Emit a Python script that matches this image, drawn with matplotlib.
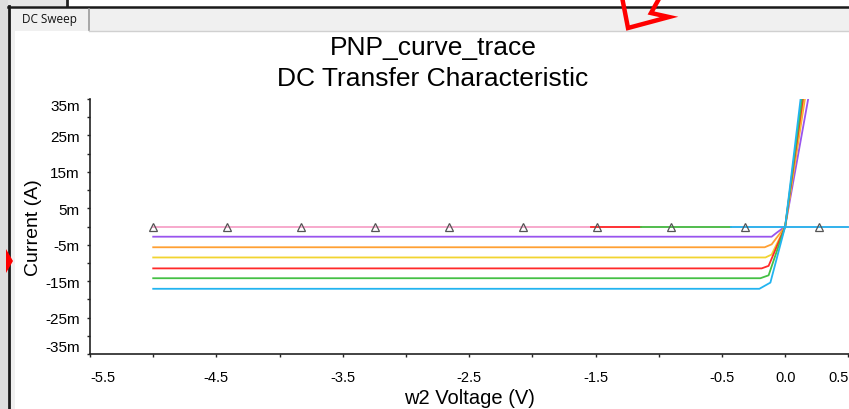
import matplotlib
matplotlib.use("Agg")
import matplotlib.pyplot as plt
from matplotlib.patches import Rectangle, Polygon
from matplotlib.lines import Line2D

# ---------------- data ----------------
x_start = -5.0                       # sweep start (V)
x_end = 0.505
# traces (Ib steps): colour, flat level (mA), knee V, bend V, bend mA, V at 35 mA
trace_colors = ["#9955ee", "#ffa033", "#f2d431", "#ff2a2a", "#44c044", "#22b4f0"]
trace_levels_ma = [-2.8, -5.7, -8.5, -11.5, -14.2, -17.1]
knee_v = [-0.107, -0.162, -0.156, -0.186, -0.196, -0.204]
bend_v = [-0.067, -0.107, -0.107, -0.131, -0.131, -0.117]
bend_ma = [-1.7, -4.9, -7.7, -10.8, -13.4, -15.4]
top_v = [0.182, 0.156, 0.148, 0.140, 0.132, 0.122]
top_ma = 36.0
# zero-current trace (Ib = 0) and overlapping segments on the zero line
zero_color = "#f7a3c8"
zero_seg_colors = ["#ff2a2a", "#44c044", "#22b4f0"]
zero_seg_start = [-1.54, -1.14, -0.43]
zero_seg_end = [-1.14, -0.43, 0.50]
# marker positions on the zero trace
marker_v = [-5.0, -4.415, -3.83, -3.245, -2.66, -2.075, -1.49, -0.905, -0.32, 0.265]
# axis ticks
xtick_vals = [-5.5, -4.5, -3.5, -2.5, -1.5, -0.5, 0.0, 0.5]
xtick_labels = ["-5.5", "-4.5", "-3.5", "-2.5", "-1.5", "-0.5", "0.0", "0.5"]
xminor_vals = [-5.0, -4.0, -3.0, -2.0, -1.0]
ytick_vals = [0.035, 0.025, 0.015, 0.005, -0.005, -0.015, -0.025, -0.035]
ytick_labels = ["35m", "25m", "15m", "5m", "-5m", "-15m", "-25m", "-35m"]
yminor_vals = [-0.03, -0.02, -0.01, 0.0, 0.01, 0.02, 0.03]

# ---------------- figure ----------------
W, H = 849, 410
plt.rcParams["font.family"] = ["Liberation Sans", "DejaVu Sans"]
fig = plt.figure(figsize=(W / 100, H / 100), dpi=100)
fig.patch.set_facecolor("white")


def fx(x):
    return x / W


def fy(y):
    return 1 - y / H


def rect(x0, y0, x1, y1, color, z=0):
    fig.add_artist(Rectangle((fx(x0), fy(y1)), fx(x1) - fx(x0), fy(y0) - fy(y1),
                             transform=fig.transFigure, facecolor=color,
                             edgecolor="none", zorder=z))


def fline(xs, ys, color, lw, z=1):
    fig.add_artist(Line2D([fx(v) for v in xs], [fy(v) for v in ys],
                          transform=fig.transFigure, color=color, lw=lw, zorder=z))


# window chrome
rect(0, 0, 66, 7, "#e6e6e6")
fline([67, 67], [0, 7], "#222222", 2.0)
rect(0, 0, 8, H, "#dedede")
rect(10, 8, W, 32, "#f0f0f0")
rect(10, 32, 15, H, "#f0f0f0")
fline([9, 9], [7, H], "#1a1a1a", 2.0)
fline([8, W], [7.5, 7.5], "#1a1a1a", 1.8)
fline([89, 89], [10, 31], "#9a9a9a", 1.2)
fline([89, W], [31.5, 31.5], "#d0d0d0", 1.0)
fig.text(fx(49), fy(19), "DC Sweep", ha="center", va="center", fontsize=8.5,
         family=["Open Sans", "DejaVu Sans"], color="#111111")
# red annotation shapes
fig.add_artist(Polygon([(fx(622), fy(-2)), (fx(628), fy(29)), (fx(669), fy(18)),
                        (fx(651), fy(14)), (fx(660), fy(-2))], closed=False,
                       transform=fig.transFigure, fill=False, edgecolor="#ff0000",
                       lw=3.2, joinstyle="miter", zorder=3))
fig.add_artist(Polygon([(fx(6), fy(250)), (fx(13), fy(262)), (fx(6), fy(274))],
                       closed=True, transform=fig.transFigure, facecolor="#ff0000",
                       edgecolor="none", zorder=3))

# axes: left 90 px, right 849 px, top 100 px, bottom 355 px
ax_l, ax_r, ax_t, ax_b = 90, 849, 100, 355
ax = fig.add_axes([fx(ax_l), fy(ax_b), fx(ax_r) - fx(ax_l), fy(ax_t) - fy(ax_b)])
ax.set_facecolor("none")

lw = 1.3
# zero trace
ax.plot([x_start, x_end], [0, 0], color=zero_color, lw=lw, zorder=2)
# main traces
for c, lv, kv, bv, bm, tv in zip(trace_colors, trace_levels_ma, knee_v, bend_v, bend_ma, top_v):
    xs = [x_start, kv, bv, 0.0, tv * top_ma / 35.0]
    ys = [lv / 1000, lv / 1000, bm / 1000, 0.0, top_ma / 1000]
    ax.plot(xs, ys, color=c, lw=lw, zorder=3)
# overlapping zero-line segments
for c, s, e in zip(zero_seg_colors, zero_seg_start, zero_seg_end):
    ax.plot([s, e], [0, 0], color=c, lw=lw, zorder=4)
# markers
ax.plot(marker_v, [0] * len(marker_v), linestyle="none", marker="^", markersize=5.8,
        markerfacecolor="none", markeredgecolor="#555555", markeredgewidth=0.9, zorder=5)

ax.set_xlim(-5.5, x_end)
ax.set_ylim(-0.035, 0.035)

for side in ["top", "right"]:
    ax.spines[side].set_visible(False)
for side in ["left", "bottom"]:
    ax.spines[side].set_linewidth(1.2)
    ax.spines[side].set_color("#222222")

ax.set_xticks(xtick_vals)
ax.set_xticklabels(xtick_labels)
ax.set_xticks(xminor_vals, minor=True)
ax.set_yticks(ytick_vals)
ax.set_yticklabels(ytick_labels)
ax.set_yticks(yminor_vals, minor=True)
ax.tick_params(axis="both", which="both", direction="out", length=2.5, width=1.0,
               color="#222222")
ax.tick_params(axis="x", which="major", labelsize=10.5, pad=9)
ax.tick_params(axis="y", which="major", labelsize=11, pad=5)

xl = ax.get_xticklabels()
xl[0].set_horizontalalignment("left")
xl[-1].set_horizontalalignment("right")
yl = ax.get_yticklabels()
yl[0].set_verticalalignment("top")
yl[-1].set_verticalalignment("bottom")

ax.set_xlabel("w2 Voltage (V)", fontsize=14.5)
ax.xaxis.set_label_coords(0.5, -(389 - ax_b) / (ax_b - ax_t))
ax.set_ylabel("Current (A)", fontsize=14)
ax.yaxis.set_label_coords(-(ax_l - 42) / (ax_r - ax_l), 0.5)

fig.text(fx(433), fy(48), "PNP_curve_trace", ha="center", va="center", fontsize=19)
fig.text(fx(433), fy(79), "DC Transfer Characteristic", ha="center", va="center", fontsize=19)

fig.savefig("out.png", dpi=100, facecolor="white")
